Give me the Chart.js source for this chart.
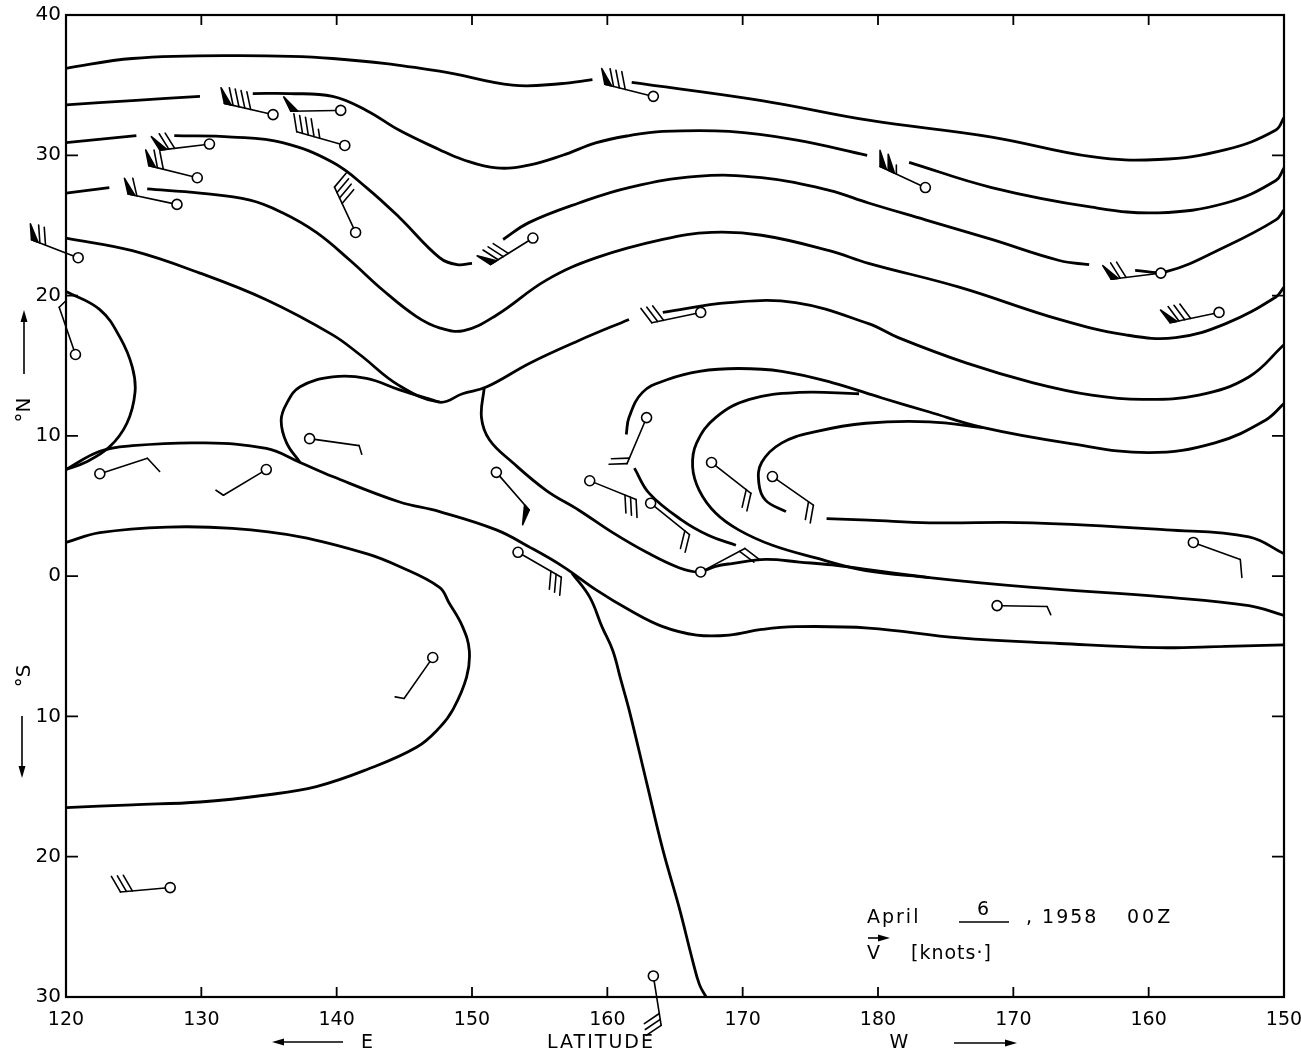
<!DOCTYPE html>
<html>
<head>
<meta charset="utf-8">
<script src="https://cdn.jsdelivr.net/npm/chart.js@4.4.0/dist/chart.umd.min.js"></script>
<style>
  html, body { margin: 0; padding: 0; background: #fff; }
  #wrap { width: 1301px; height: 1056px; }
</style>
</head>
<body>
<div id="wrap"><canvas id="streamChart" width="1301" height="1056"></canvas></div>
<script>
// April 6, 1958 00Z  streamlines + wind barbs
var lonTicks = [120, 130, 140, 150, 160, 170, 180, 190, 200, 210];
var lonTickLabels = ['120', '130', '140', '150', '160', '170', '180', '170', '160', '150'];
var latTicks = [-30, -20, -10, 0, 10, 20, 30, 40];
var latTickLabels = ['30', '20', '10', '0', '10', '20', '30', '40'];

// streamlines [lon (0-360 E), lat], null = break in the line
var stream1 = [[120.0,36.2],[124.9,36.9],[132.3,37.1],[139.7,36.9],[147.6,36.0],[153.0,35.0],[156.5,35.1],[158.9,35.4],null,
  [161.8,35.2],[171.4,33.9],[179.3,32.5],[188.4,31.3],[195.8,29.9],[200.7,29.7],[205.7,30.4],[209.4,31.8],[210.0,32.7]];
var stream2 = [[120.0,33.6],[124.9,33.9],[129.9,34.2],null,[133.8,34.4],[136.5,34.4],[139.7,34.2],[142.2,33.2],[144.6,31.8],
  [147.6,30.4],[149.3,29.7],[151.8,29.1],[154.2,29.3],[156.7,30.0],[159.2,30.9],[161.6,31.4],[164.1,31.7],[169.0,31.7],
  [173.9,31.1],[179.2,30.0],null,[182.3,29.5],[188.4,27.7],[195.8,26.3],[200.7,25.9],[205.7,26.6],[209.4,28.2],[210.0,29.1]];
var stream3 = [[120.0,30.9],[125.2,31.4],null,[128.0,31.4],[132.3,31.3],[136.0,30.9],[139.7,29.5],[142.2,27.7],[144.6,25.6],
  [147.6,22.7],[148.9,22.2],[150.0,22.3],null,[152.3,24.0],[154.2,25.2],[157.9,26.6],[161.6,27.7],[166.6,28.5],[171.4,28.4],
  [176.4,27.5],[179.3,26.6],[183.5,25.4],[188.4,24.0],[193.4,22.5],[195.6,22.2],null,[199.0,21.8],[201.3,21.7],[205.7,23.5],
  [209.4,25.4],[210.0,26.1]];
var stream4 = [[120.0,27.3],[123.2,27.7],null,[126.0,27.6],[129.9,27.3],[133.6,26.8],[136.0,25.9],[138.5,24.5],[141.0,22.5],
  [143.4,20.4],[145.9,18.5],[147.6,17.7],[149.4,17.5],[151.8,18.6],[155.5,21.1],[159.2,22.7],[164.1,24.0],[167.7,24.5],
  [171.4,24.3],[176.4,23.2],[179.3,22.3],[186.0,20.6],[193.4,18.3],[198.3,17.2],[202.0,17.0],[205.7,18.0],[209.4,19.9],[210.0,20.6]];
var stream5 = [[120.0,24.1],[124.9,23.2],[129.9,21.6],[134.8,19.7],[139.7,17.2],[141.7,15.8],[144.6,13.6],[147.6,12.4],
  [149.3,13.0],[151.1,13.5],[154.3,15.2],[157.9,16.8],[161.6,18.3],null,[164.1,18.8],[169.0,19.5],[173.9,19.5],[179.3,18.0],
  [181.5,17.0],[186.5,15.2],[191.4,13.8],[195.8,12.9],[199.5,12.6],[203.7,12.9],[207.4,14.2],[210.0,16.5]];
var loopWest = [[120.0,20.3],[122.5,19.0],[124.0,17.0],[124.9,14.9],[125.1,13.1],[124.5,10.9],[123.2,9.2],[121.4,8.1],[120.0,7.6]];
var blobWest = [[137.3,8.1],[136.3,9.5],[135.9,11.1],[136.3,12.3],[137.3,13.5],[139.7,14.2],[142.2,14.1],[144.6,13.3],[147.6,12.4]];
var streamA = [[120.0,7.6],[122.5,8.9],[124.9,9.3],[129.9,9.5],[134.8,9.1],[137.3,8.1],[139.7,7.1],[144.6,5.3],[147.6,4.6],
  [151.8,3.3],[154.2,2.1],[156.7,0.7],[159.2,-1.0],[161.6,-2.4],[164.1,-3.6],[166.6,-4.2],[169.0,-4.2],[171.4,-3.8],
  [173.9,-3.6],[179.3,-3.7],[186.0,-4.4],[193.4,-4.8],[200.7,-5.1],[205.7,-5.0],[210.0,-4.9]];
var streamB = [[120.0,2.4],[122.5,3.1],[127.5,3.5],[132.3,3.4],[137.3,2.8],[142.2,1.6],[144.6,0.7],[147.6,-0.8],[148.3,-1.9],
  [149.3,-3.6],[149.8,-5.3],[149.6,-7.2],[148.6,-9.5],[147.6,-10.8],[145.9,-12.2],[142.2,-13.8],[138.5,-15.0],[134.8,-15.6],
  [129.9,-16.1],[124.9,-16.3],[120.0,-16.5]];
var streamC = [[157.4,0.2],[158.7,-1.5],[159.6,-3.6],[160.4,-5.3],[161.0,-7.4],[161.6,-9.5],[162.9,-14.7],[164.1,-19.5],
  [165.3,-23.6],[166.3,-27.4],[166.8,-29.1],[167.3,-30.0]];
var streamD = [[150.9,13.4],[150.7,11.3],[151.3,9.7],[153.0,8.1],[155.5,6.1],[157.9,4.7],[160.4,3.1],[162.9,1.7],[165.3,0.6],
  [166.8,0.3],[168.0,0.7],[169.2,0.9],[171.7,1.2],[174.2,1.0],[176.6,0.8],[183.8,-0.1],[191.4,-0.8],[201.3,-1.5],[207.4,-2.1],[210.0,-2.8]];
var hookE = [[169.5,2.2],[167.5,2.9],[165.5,4.0],[163.1,5.9],[162.0,7.7],null,[161.4,10.1],[161.6,11.3],[162.6,13.1],[164.4,14.0],
  [166.8,14.6],[169.7,14.8],[172.9,14.6],[176.6,13.8],[180.3,12.7],[183.8,11.7],[187.7,10.6],[193.9,9.5],[200.0,8.8],
  [204.9,9.5],[208.6,11.1],[210.0,12.3]];
var hookF = [[178.6,13.0],[174.2,13.1],[170.5,12.6],[168.0,11.3],[166.6,9.5],[166.3,7.8],[166.8,6.1],[168.0,4.5],[169.7,3.3],
  [172.2,2.2],[175.4,1.3],[179.1,0.4],[183.8,-0.1]];
var hookG = [[187.7,10.6],[183.8,11.0],[179.1,10.9],[175.4,10.3],[172.9,9.5],[171.4,8.1],[171.2,6.6],[171.7,5.4],[173.2,4.6]];
var streamH = [[176.2,4.1],[179.3,4.0],[183.8,3.8],[191.4,3.8],[201.3,3.3],[207.4,2.8],[210.0,1.6]];

// stations: position, wind direction (deg, from), speed (knots)
var stationLon = [135.3,140.3,140.6,130.6,129.7,128.2,141.4,120.9,120.7,122.5,134.8,138.0,147.1,151.8,158.7,163.2,
  162.9,166.9,167.7,172.2,153.4,203.3,188.8,163.4,154.5,166.9,183.5,200.9,205.2,127.7,163.4];
var stationLat = [32.9,33.2,30.7,30.8,28.4,26.5,24.5,22.7,15.8,7.3,7.6,9.8,-5.8,7.4,6.8,5.2,
  11.3,0.3,8.1,7.1,1.7,2.4,-2.1,34.2,24.1,18.8,27.7,21.6,18.8,-22.2,-28.5];
var windDir = [283,269,286,263,284,282,335,291,341,72,239,98,215,139,112,129,
  203,62,128,125,120,110,91,284,238,258,295,263,258,265,171];
var windSpeed = [90,50,45,70,70,60,40,70,5,10,5,5,5,50,30,20,
  20,20,20,20,30,10,5,80,80,30,105,70,80,30,30];

var streamLines = [stream1, stream2, stream3, stream4, stream5, loopWest, blobWest, streamA, streamB,
  streamC, streamD, hookE, hookF, hookG, streamH];

function toPoints(line) {
  return line.map(function (p) { return p ? { x: p[0], y: p[1] } : { x: null, y: null }; });
}

var FONT = '"DejaVu Sans", "Liberation Sans", sans-serif';

// frame with inward ticks on all four sides
var frameTicks = {
  id: 'frameTicks',
  afterDraw: function (chart) {
    var ctx = chart.ctx, a = chart.chartArea, xs = chart.scales.x, ys = chart.scales.y;
    ctx.save();
    ctx.strokeStyle = '#000';
    ctx.lineWidth = 2.2;
    ctx.strokeRect(a.left, a.top, a.right - a.left, a.bottom - a.top);
    ctx.lineWidth = 1.8;
    ctx.beginPath();
    lonTicks.forEach(function (v) {
      if (v === lonTicks[0] || v === lonTicks[lonTicks.length - 1]) return;
      var px = xs.getPixelForValue(v);
      ctx.moveTo(px, a.bottom); ctx.lineTo(px, a.bottom - 10);
      ctx.moveTo(px, a.top); ctx.lineTo(px, a.top + 10);
    });
    latTicks.forEach(function (v) {
      if (v === latTicks[0] || v === latTicks[latTicks.length - 1]) return;
      var py = ys.getPixelForValue(v);
      ctx.moveTo(a.left, py); ctx.lineTo(a.left + 12, py);
      ctx.moveTo(a.right, py); ctx.lineTo(a.right - 12, py);
    });
    ctx.stroke();
    ctx.restore();
  }
};

// wind barbs: staff toward the wind's origin, flags 50, barbs 10, half barbs 5
var windBarbs = {
  id: 'windBarbs',
  afterDatasetsDraw: function (chart) {
    var ctx = chart.ctx, xs = chart.scales.x, ys = chart.scales.y;
    var STAFF = 50, RING = 5, FULL = 18, HALF = 9, STEP = 6, LEAN = 25 * Math.PI / 180;
    ctx.save();
    ctx.strokeStyle = '#000';
    ctx.fillStyle = '#000';
    ctx.lineWidth = 1.6;
    ctx.lineCap = 'round';
    ctx.lineJoin = 'round';
    for (var i = 0; i < stationLon.length; i++) {
      var px = xs.getPixelForValue(stationLon[i]);
      var py = ys.getPixelForValue(stationLat[i]);
      var th = windDir[i] * Math.PI / 180;
      var ux = Math.sin(th), uy = -Math.cos(th);
      var nx = -uy, ny = ux;
      var bx = nx * Math.cos(LEAN) + ux * Math.sin(LEAN);
      var by = ny * Math.cos(LEAN) + uy * Math.sin(LEAN);
      var tx = px + ux * STAFF, ty = py + uy * STAFF;
      ctx.beginPath();
      ctx.moveTo(px + ux * RING, py + uy * RING);
      ctx.lineTo(tx, ty);
      ctx.stroke();

      var spd = windSpeed[i];
      var flags = Math.floor(spd / 50);
      var full = Math.floor((spd % 50) / 10);
      var half = (spd % 10) >= 5 ? 1 : 0;
      var d = 0, qx, qy, k;
      for (k = 0; k < flags; k++) {
        qx = tx - ux * d; qy = ty - uy * d;
        ctx.beginPath();
        ctx.moveTo(qx, qy);
        ctx.lineTo(qx + bx * 16, qy + by * 16);
        ctx.lineTo(qx - ux * 7, qy - uy * 7);
        ctx.closePath();
        ctx.fill();
        ctx.stroke();
        d += 9;
      }
      for (k = 0; k < full; k++) {
        qx = tx - ux * d; qy = ty - uy * d;
        ctx.beginPath();
        ctx.moveTo(qx, qy);
        ctx.lineTo(qx + bx * FULL, qy + by * FULL);
        ctx.stroke();
        d += STEP;
      }
      if (half) {
        qx = tx - ux * d; qy = ty - uy * d;
        ctx.beginPath();
        ctx.moveTo(qx, qy);
        ctx.lineTo(qx + bx * HALF, qy + by * HALF);
        ctx.stroke();
      }
    }
    ctx.restore();
  }
};

function arrow(ctx, x1, y1, x2, y2) {
  var ang = Math.atan2(y2 - y1, x2 - x1);
  ctx.beginPath();
  ctx.moveTo(x1, y1);
  ctx.lineTo(x2 - Math.cos(ang) * 6, y2 - Math.sin(ang) * 6);
  ctx.stroke();
  ctx.beginPath();
  ctx.moveTo(x2, y2);
  ctx.lineTo(x2 - Math.cos(ang) * 12 - Math.sin(ang) * 3.5, y2 - Math.sin(ang) * 12 + Math.cos(ang) * 3.5);
  ctx.lineTo(x2 - Math.cos(ang) * 12 + Math.sin(ang) * 3.5, y2 - Math.sin(ang) * 12 - Math.cos(ang) * 3.5);
  ctx.closePath();
  ctx.fill();
}

// axis captions and the date note
var captions = {
  id: 'captions',
  afterDraw: function (chart) {
    var ctx = chart.ctx;
    ctx.save();
    ctx.fillStyle = '#000';
    ctx.strokeStyle = '#000';
    ctx.lineWidth = 1.6;
    ctx.font = '19px ' + FONT;
    ctx.textBaseline = 'middle';
    ctx.textAlign = 'center';

    arrow(ctx, 343, 1042, 272, 1042);
    ctx.fillText('E', 367, 1043);
    ctx.letterSpacing = '2px';
    ctx.fillText('LATITUDE', 601, 1043);
    ctx.letterSpacing = '0px';
    ctx.fillText('W', 899, 1043);
    arrow(ctx, 954, 1043, 1017, 1043);

    ctx.font = '20px ' + FONT;
    ctx.save();
    ctx.translate(25, 410);
    ctx.rotate(-Math.PI / 2);
    ctx.fillText('°N', 0, 0);
    ctx.restore();
    arrow(ctx, 24, 374, 24, 310);

    ctx.save();
    ctx.translate(25, 676);
    ctx.rotate(-Math.PI / 2);
    ctx.fillText('°S', 0, 0);
    ctx.restore();
    arrow(ctx, 22, 716, 22, 778);

    ctx.font = '19px ' + FONT;
    ctx.textAlign = 'left';
    ctx.letterSpacing = '2px';
    ctx.fillText('April', 867, 918);
    ctx.fillText('6', 977, 910);
    ctx.fillText(', 1958', 1026, 918);
    ctx.letterSpacing = '3px';
    ctx.fillText('00Z', 1127, 918);
    ctx.letterSpacing = '1px';
    ctx.fillText('V', 867, 954);
    ctx.fillText('[knots\u00b7]', 911, 954);
    ctx.letterSpacing = '0px';
    ctx.beginPath();
    ctx.moveTo(959, 922); ctx.lineTo(1009, 922);
    ctx.stroke();
    arrow(ctx, 868, 938, 890, 938);
    ctx.restore();
  }
};

var datasets = [{
  label: 'stations',
  data: stationLon.map(function (lon, i) { return { x: lon, y: stationLat[i] }; }),
  showLine: false,
  pointRadius: 5,
  pointHoverRadius: 5,
  pointBackgroundColor: '#fff',
  pointBorderColor: '#000',
  pointBorderWidth: 1.6,
  order: 0,
  clip: false
}];
streamLines.forEach(function (line, i) {
  datasets.push({
    label: 'stream' + i,
    data: toPoints(line),
    showLine: true,
    pointRadius: 0,
    pointHoverRadius: 0,
    borderColor: '#000',
    borderWidth: 2.8,
    tension: 0.4,
    spanGaps: false,
    fill: false,
    order: 1
  });
});

var streamChart = new Chart(document.getElementById('streamChart'), {
  type: 'scatter',
  data: { datasets: datasets },
  options: {
    responsive: false,
    animation: false,
    events: [],
    layout: { padding: { top: 15, right: 17, bottom: 0, left: 0 } },
    plugins: { legend: { display: false }, tooltip: { enabled: false } },
    scales: {
      x: {
        type: 'linear',
        position: 'bottom',
        min: 120,
        max: 210,
        afterFit: function (scale) {
          scale.height = 59;
          scale.paddingLeft = 0;
          scale.paddingRight = 0;
        },
        grid: { display: false, drawTicks: false },
        border: { display: false },
        ticks: {
          stepSize: 10,
          autoSkip: false,
          maxRotation: 0,
          padding: 12,
          color: '#000',
          font: { family: FONT, size: 19 },
          callback: function (v) { var k = lonTicks.indexOf(v); return k < 0 ? '' : lonTickLabels[k]; }
        }
      },
      y: {
        type: 'linear',
        position: 'left',
        min: -30,
        max: 40,
        afterFit: function (scale) {
          scale.width = 66;
          scale.paddingTop = 0;
          scale.paddingBottom = 0;
        },
        grid: { display: false, drawTicks: false },
        border: { display: false },
        ticks: {
          stepSize: 10,
          padding: 5,
          color: '#000',
          font: { family: FONT, size: 20 },
          callback: function (v) { var k = latTicks.indexOf(v); return k < 0 ? '' : latTickLabels[k]; }
        }
      }
    }
  },
  plugins: [frameTicks, windBarbs, captions]
});
</script>
</body>
</html>
